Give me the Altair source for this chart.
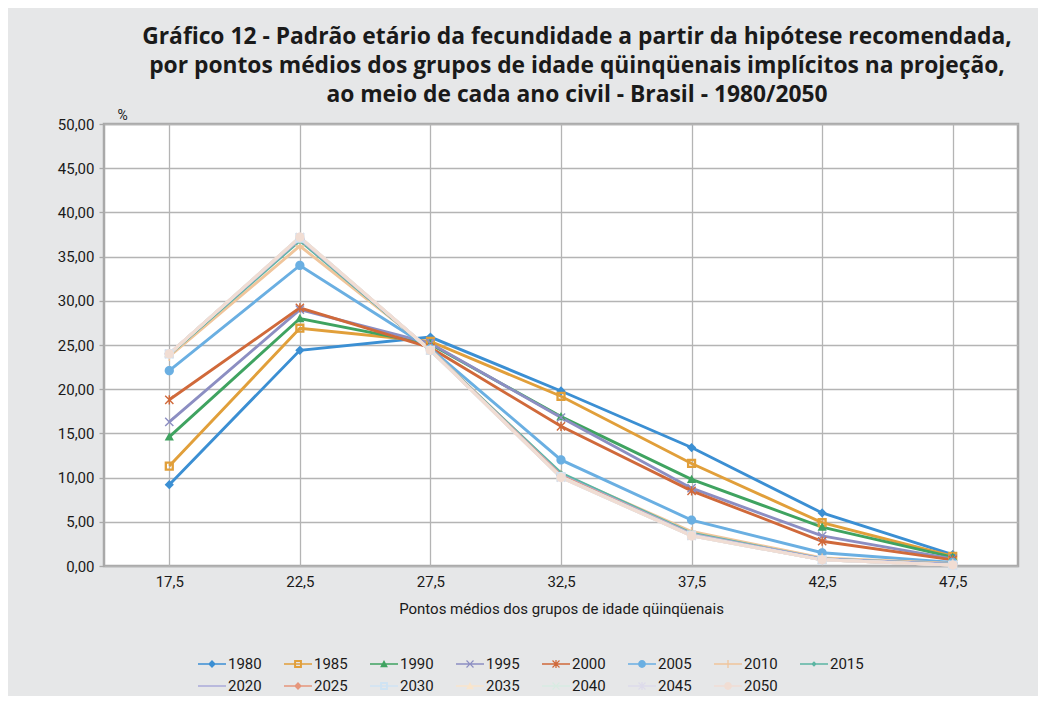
import altair as alt
import pandas as pd

# ---------------- data ----------------
x_labels = ["17,5", "22,5", "27,5", "32,5", "37,5", "42,5", "47,5"]
years = ["1980", "1985", "1990", "1995", "2000", "2005", "2010",
         "2015", "2020", "2025", "2030", "2035", "2040", "2045", "2050"]

v1980 = [9.2, 24.4, 25.9, 19.8, 13.4, 6.0, 1.3]
v1985 = [11.3, 26.9, 25.4, 19.2, 11.6, 4.9, 1.1]
v1990 = [14.6, 28.0, 25.1, 16.9, 9.8, 4.4, 1.0]
v1995 = [16.3, 29.0, 25.2, 16.8, 8.8, 3.4, 0.8]
v2000 = [18.8, 29.2, 24.7, 15.8, 8.5, 2.8, 0.7]
v2005 = [22.1, 34.0, 24.6, 12.0, 5.2, 1.5, 0.4]
v2010 = [23.7, 36.2, 24.5, 10.4, 3.9, 0.9, 0.3]
v2015 = [23.9, 36.8, 24.4, 10.5, 3.7, 0.8, 0.2]
v2020 = [24.0, 37.0, 24.4, 10.3, 3.6, 0.8, 0.2]
v2025 = [24.0, 37.1, 24.4, 10.2, 3.5, 0.7, 0.1]
v2030 = [24.0, 37.1, 24.4, 10.1, 3.5, 0.7, 0.1]
v2035 = [24.0, 37.2, 24.4, 10.1, 3.4, 0.7, 0.1]
v2040 = [24.0, 37.2, 24.4, 10.0, 3.4, 0.7, 0.1]
v2045 = [24.0, 37.2, 24.4, 10.0, 3.4, 0.7, 0.1]
v2050 = [24.0, 37.2, 24.4, 10.0, 3.4, 0.7, 0.1]

series = [v1980, v1985, v1990, v1995, v2000, v2005, v2010,
          v2015, v2020, v2025, v2030, v2035, v2040, v2045, v2050]

colors = ["#3b8fd3", "#e19f3a", "#3fa360", "#8c8ec2", "#d0693a", "#6aafe2", "#f0c59b",
          "#5bb5a2", "#aaaad9", "#e6967b", "#cfe3f3", "#f9e5cc", "#d8ebe2", "#dddbea", "#f1ddd3"]

rows = []
for yr, vals in zip(years, series):
    for xl, v in zip(x_labels, vals):
        rows.append({"x": xl, "v": v, "ano": yr, "ordem": years.index(yr)})
df = pd.DataFrame(rows)

# ---------------- marker shapes (unit box -1..1) ----------------
def poly(pts, s=1.0):
    return "M" + "L".join(f"{px*s:.3f},{py*s:.3f}" for px, py in pts) + "Z"

def circle(r):
    return f"M{r:.3f},0A{r:.3f},{r:.3f} 0 1,1 {-r:.3f},0A{r:.3f},{r:.3f} 0 1,1 {r:.3f},0Z"

P_DIAMOND = [(0, -1), (1, 0), (0, 1), (-1, 0)]
P_SQ_OUT = [(-1, -1), (1, -1), (1, 1), (-1, 1)]
P_SQ_IN = [(-0.5, -0.5), (-0.5, 0.5), (0.5, 0.5), (0.5, -0.5)]
P_TRI = [(0, -1), (1, 0.8), (-1, 0.8)]
P_X = [(-1, -0.78), (-0.78, -1), (0, -0.22), (0.78, -1), (1, -0.78), (0.22, 0),
       (1, 0.78), (0.78, 1), (0, 0.22), (-0.78, 1), (-1, 0.78), (-0.22, 0)]
P_VBAR = [(-0.16, -1), (0.16, -1), (0.16, 1), (-0.16, 1)]
P_PLUS = [(-0.16, -1), (0.16, -1), (0.16, -0.16), (1, -0.16), (1, 0.16), (0.16, 0.16),
          (0.16, 1), (-0.16, 1), (-0.16, 0.16), (-1, 0.16), (-1, -0.16), (-0.16, -0.16)]
P_DASH = [(-1, -0.22), (1, -0.22), (1, 0.22), (-1, 0.22)]

def marker(kind, s):
    if kind == "diamond":
        return poly(P_DIAMOND, s)
    if kind == "square":
        return poly(P_SQ_OUT, s) + poly(P_SQ_IN, s)
    if kind == "tri":
        return poly(P_TRI, s)
    if kind == "x":
        return poly(P_X, s)
    if kind == "star":
        return poly(P_X, s) + poly(P_VBAR, s)
    if kind == "circle":
        return circle(s)
    if kind == "plus":
        return poly(P_PLUS, s)
    if kind == "smalldiamond":
        return poly(P_DIAMOND, s * 0.7)
    if kind == "dash":
        return poly(P_DASH, s)
    return circle(s)

kinds = ["diamond", "square", "tri", "x", "star", "circle", "plus",
         "smalldiamond", "dash", "diamond", "square", "tri", "x", "star", "circle"]

plot_shapes = [marker(k, 1.0) for k in kinds]
LINE = poly([(-1, -0.06), (1, -0.06), (1, 0.06), (-1, 0.06)])
legend_shapes = [LINE + marker(k, 0.28) for k in kinds]

# ---------------- chart ----------------
FONT = "Roboto"
x_enc = alt.X("x:O", sort=x_labels,
              scale=alt.Scale(type="point", padding=0.5),
              axis=alt.Axis(title="Pontos médios dos grupos de idade qüinqüenais",
                            labelAngle=0, ticks=False, domain=False,
                            grid=True, gridColor="#b4b4b4", gridWidth=1.3,
                            labelFontSize=15, labelPadding=8, labelColor="#1a1a1a",
                            titleFontSize=15, titleFontWeight="normal", titlePadding=12,
                            titleColor="#1a1a1a", labelFont=FONT, titleFont=FONT))
y_enc = alt.Y("v:Q",
              scale=alt.Scale(domain=[0, 50], nice=False),
              axis=alt.Axis(title="%", titleAngle=0, titleX=18, titleY=-9,
                            titleAlign="center", titleBaseline="middle",
                            titleFontSize=14, titleFontWeight="normal", titleColor="#1a1a1a",
                            values=list(range(0, 51, 5)),
                            labelExpr="replace(format(datum.value, '.2f'), '.', ',')",
                            domain=False, ticks=True, tickSize=5, tickColor="#a9a9a9",
                            tickWidth=1.3, grid=True, gridColor="#b4b4b4", gridWidth=1.3,
                            labelFontSize=15, labelPadding=5, labelColor="#1a1a1a",
                            labelFont=FONT, titleFont=FONT))

color_scale = alt.Scale(domain=years, range=colors)

lines = alt.Chart(df).mark_line(strokeWidth=2.9).encode(
    x=x_enc, y=y_enc,
    color=alt.Color("ano:N", scale=color_scale, legend=None),
    order=alt.Order("ordem:Q"),
)

points = alt.Chart(df).mark_point(filled=True, size=85, opacity=1, strokeWidth=0).encode(
    x=x_enc, y=y_enc,
    color=alt.Color("ano:N", scale=color_scale, legend=None),
    shape=alt.Shape("ano:N", scale=alt.Scale(domain=years, range=plot_shapes), legend=None),
    order=alt.Order("ordem:Q"),
)

def legend_params():
    return alt.Legend(title=None, orient="none", legendX=94, legendY=526,
                      direction="horizontal", columns=8,
                      symbolSize=784, symbolStrokeWidth=0,
                      labelFontSize=15, labelFont=FONT, labelColor="#1a1a1a",
                      labelOffset=2, columnPadding=22, rowPadding=-6)

legend_layer = alt.Chart(df).transform_filter("datum.v < -100").mark_point(
    filled=True, opacity=1, strokeWidth=0).encode(
    x=x_enc, y=y_enc,
    color=alt.Color("ano:N", scale=color_scale, legend=legend_params()),
    shape=alt.Shape("ano:N", scale=alt.Scale(domain=years, range=legend_shapes),
                    legend=legend_params()),
)

chart = alt.layer(lines, points, legend_layer).resolve_scale(
    color="independent", shape="independent"
).properties(
    width=914, height=442,
    autosize=alt.AutoSizeParams(type="none"),
    padding={"left": 96, "top": 116, "right": 20, "bottom": 130},
    background="#e6e7e8",
    title=alt.TitleParams(
        text=["Gráfico 12 - Padrão etário da fecundidade a partir da hipótese recomendada,",
              "por pontos médios dos grupos de idade qüinqüenais implícitos na projeção,",
              "ao meio de cada ano civil - Brasil - 1980/2050"],
        font="Open Sans", fontSize=22.8, fontWeight="bold", color="#1a1a1a",
        anchor="middle", frame="group", dx=16, offset=1, lineHeight=29),
).configure_view(
    fill="white", stroke="#a9a9a9", strokeWidth=2.5
)

chart.save("out.html", embed_options={"renderer": "svg", "actions": False})
